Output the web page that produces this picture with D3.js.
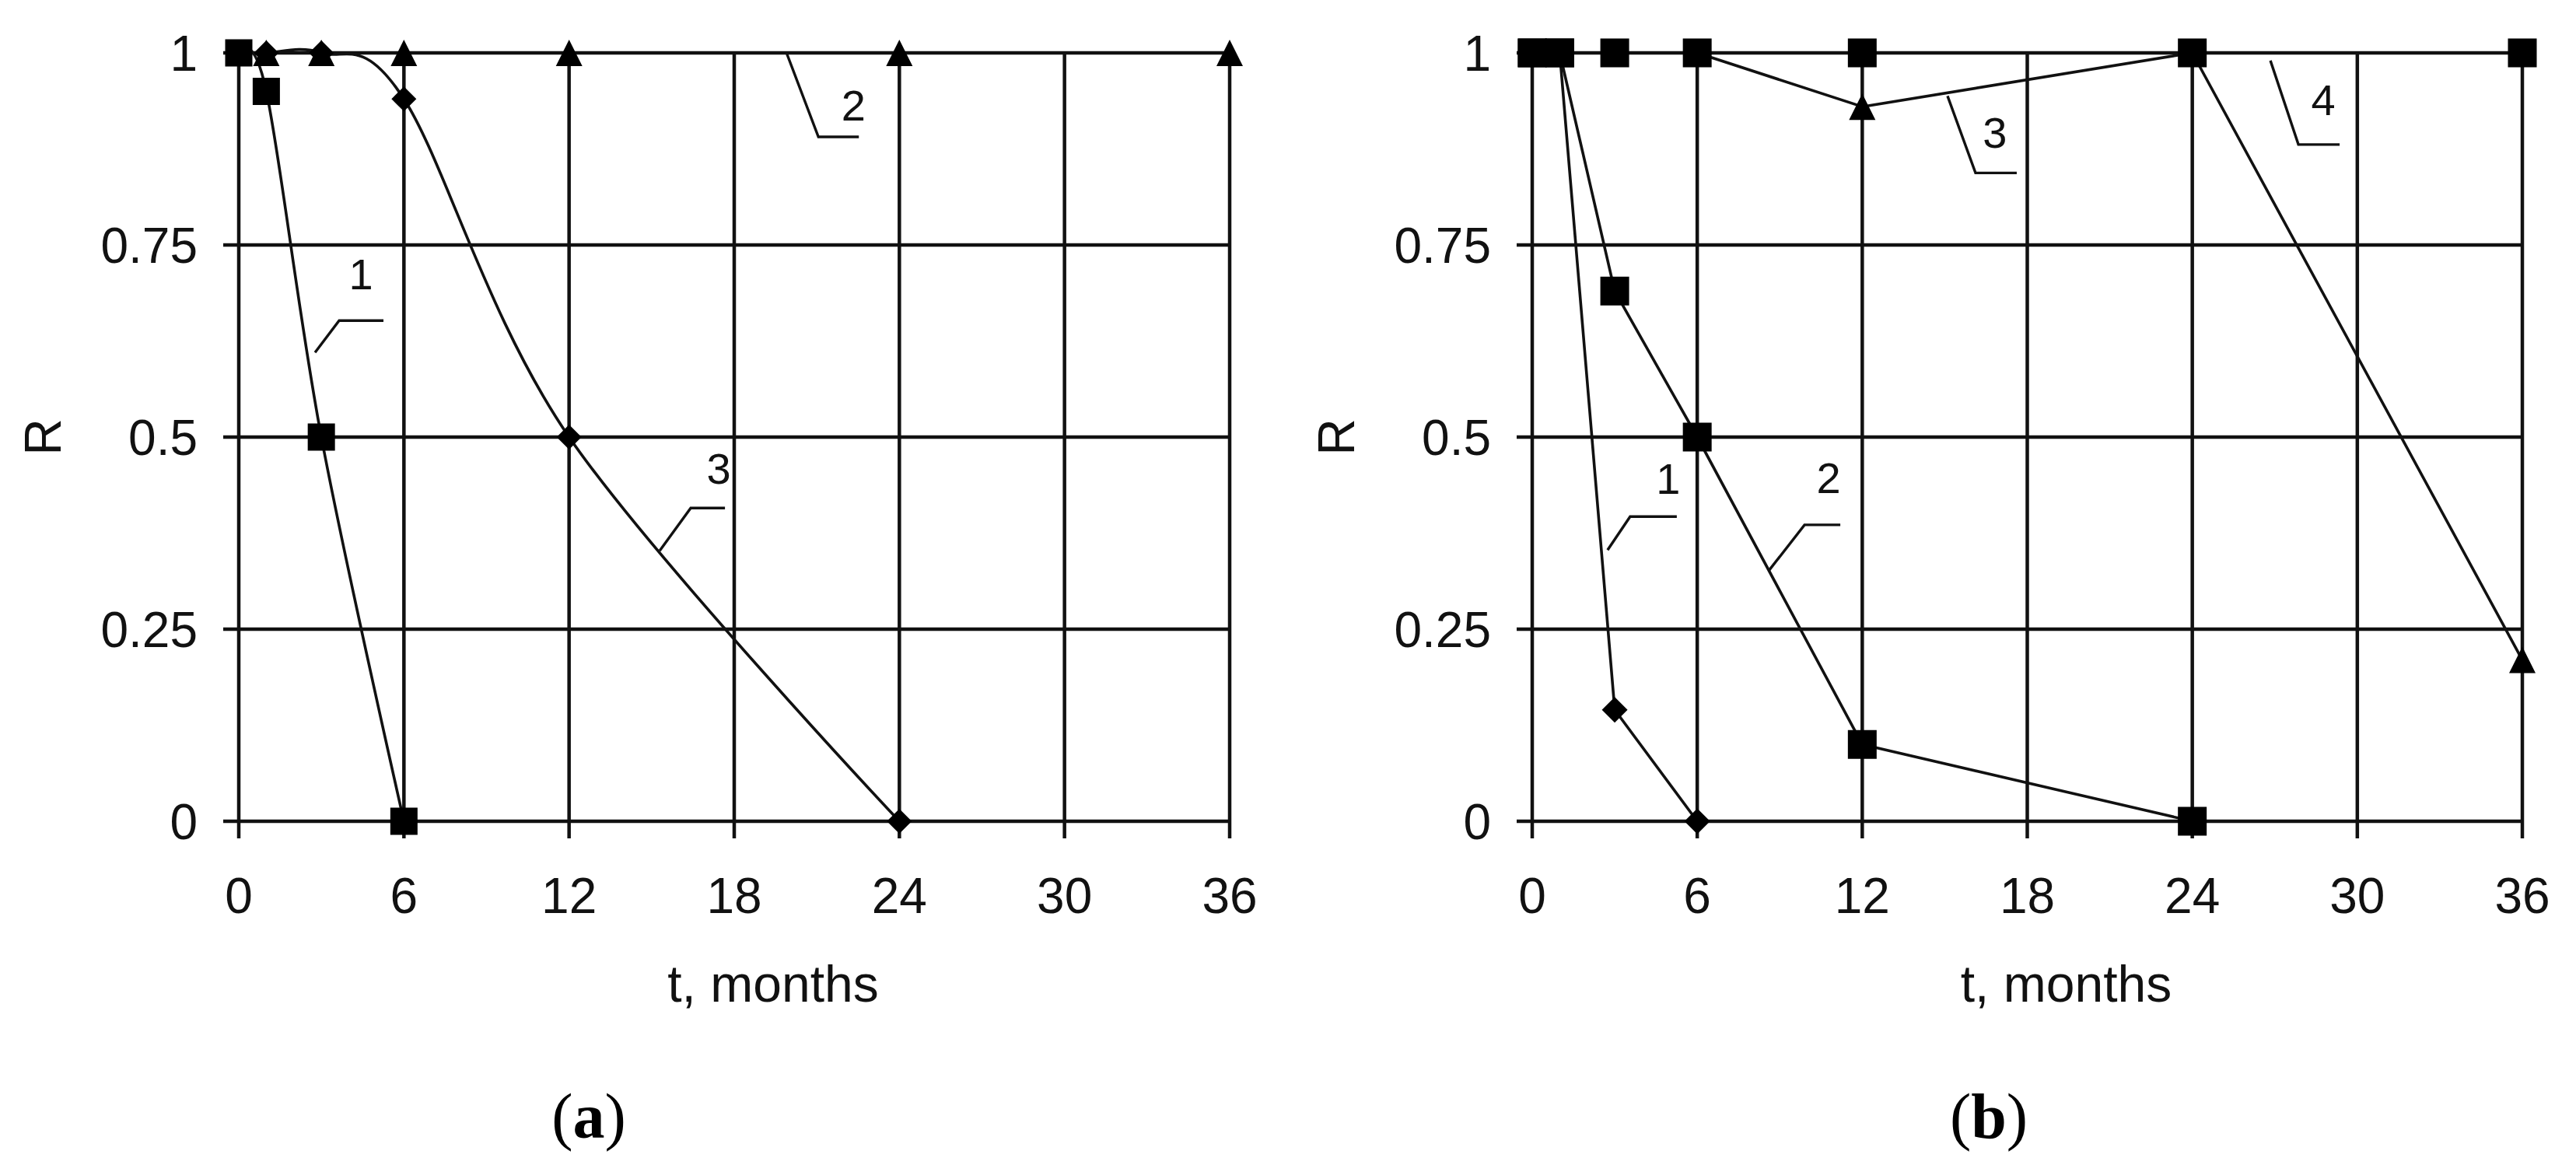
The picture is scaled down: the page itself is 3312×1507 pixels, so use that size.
<!DOCTYPE html>
<html>
<head>
<meta charset="utf-8">
<script src="https://cdn.jsdelivr.net/npm/d3@7"></script>
<style>
  html, body { margin: 0; padding: 0; background: #fff; }
  svg { display: block; }
</style>
</head>
<body>
<svg id="chart" width="3312" height="1507"></svg>
<script>
// ---------- DATA ----------
const xTicks = [0, 6, 12, 18, 24, 30, 36];
const yTicks = [0, 0.25, 0.5, 0.75, 1];
const yTickLabels = ["0", "0.25", "0.5", "0.75", "1"];
const xTitle = "t, months";
const yTitle = "R";

// panel (a)
const aS1_t = [0, 1, 3, 6];
const aS1_R = [1, 0.95, 0.5, 0];
const aS2_t = [0, 1, 3, 6, 12, 24, 36];
const aS2_R = [1, 1, 1, 1, 1, 1, 1];
const aS3_t = [0, 1, 3, 6, 12, 24];
const aS3_R = [1, 1, 1, 0.94, 0.5, 0];

// panel (b)
const bS1_t = [0, 1, 3, 6];
const bS1_R = [1, 1, 0.145, 0];
const bS2_t = [0, 1, 3, 6, 12, 24];
const bS2_R = [1, 1, 0.69, 0.5, 0.1, 0];
const bS3_t = [0, 1, 3, 6, 12, 24, 36];
const bS3_R = [1, 1, 1, 1, 0.93, 1, 0.21];
const bS4_t = [0, 1, 3, 6, 12, 24, 36];
const bS4_R = [1, 1, 1, 1, 1, 1, 1];

// callout labels: text and the (t, R) point the leader starts from
const aLabels = ["1", "2", "3"];
const aLabel_t = [2.77, 19.9, 15.29];
const aLabel_R = [0.61, 1, 0.352];
const bLabels = ["1", "2", "3", "4"];
const bLabel_t = [2.74, 8.6, 15.1, 26.84];
const bLabel_R = [0.353, 0.326, 0.944, 0.99];

// ---------- LAYOUT / STYLE ----------
const sansFont = "'Liberation Sans', Arial, Helvetica, sans-serif";
const serifFont = "'Liberation Serif', 'Times New Roman', serif";

// leader geometry in px: [elbow dx, elbow dy, end dx, end dy, text dx, text baseline dy]
const aLeader = [
  [31, -41, 88, -41, 59, -81],
  [41, 108, 93, 108, 86, 87],
  [40, -55, 84, -55, 76, -86]
];
const bLeader = [
  [29, -43, 89, -43, 78, -72],
  [46, -59, 92, -59, 77, -100],
  [36, 99, 89, 99, 61, 67],
  [36, 108, 89, 108, 68, 70]
];

const svg = d3.select("#chart");

// custom symbols with bbox centred on the point
const triSym = { draw(ctx, size) { const s = Math.sqrt(size); ctx.moveTo(0, -s / 2); ctx.lineTo(s / 2, s / 2); ctx.lineTo(-s / 2, s / 2); ctx.closePath(); } };
const diaSym = { draw(ctx, size) { const s = Math.sqrt(size); ctx.moveTo(0, -s / 2); ctx.lineTo(s / 2, 0); ctx.lineTo(0, s / 2); ctx.lineTo(-s / 2, 0); ctx.closePath(); } };
const sqSym  = { draw(ctx, size) { const s = Math.sqrt(size); ctx.rect(-s / 2, -s / 2, s, s); } };

function zip(ts, rs) { return ts.map((t, i) => ({ t: t, R: rs[i] })); }

function drawPanel(cfg) {
  const x = d3.scaleLinear().domain([0, 36]).range([cfg.x0, cfg.x1]);
  const y = d3.scaleLinear().domain([0, 1]).range([1056, 68]);
  const g = svg.append("g");

  // grid (horizontal)
  g.append("g").selectAll("line").data(yTicks).join("line")
    .attr("x1", x(0) - 20).attr("x2", x(36))
    .attr("y1", d => y(d)).attr("y2", d => y(d))
    .attr("stroke", "#111").attr("stroke-width", 4.5);
  // grid (vertical)
  g.append("g").selectAll("line").data(xTicks).join("line")
    .attr("x1", d => x(d)).attr("x2", d => x(d))
    .attr("y1", y(1)).attr("y2", y(0) + 22)
    .attr("stroke", "#111").attr("stroke-width", 4.5);

  // tick labels
  g.append("g").selectAll("text").data(yTicks).join("text")
    .attr("x", x(0) - 53).attr("y", d => y(d)).attr("dy", "0.36em")
    .attr("text-anchor", "end")
    .attr("font-family", sansFont).attr("font-size", 64).attr("fill", "#111")
    .text((d, i) => yTickLabels[i]);
  g.append("g").selectAll("text").data(xTicks).join("text")
    .attr("x", d => x(d)).attr("y", y(0) + 118)
    .attr("text-anchor", "middle")
    .attr("font-family", sansFont).attr("font-size", 64).attr("fill", "#111")
    .text(d => String(d));

  // axis titles
  g.append("text")
    .attr("x", (cfg.x0 + cfg.x1) / 2 + 50).attr("y", 1288)
    .attr("text-anchor", "middle")
    .attr("font-family", sansFont).attr("font-size", 66).attr("fill", "#111")
    .text(xTitle);
  g.append("text")
    .attr("transform", `translate(${x(0) - 253},${(y(0) + y(1)) / 2}) rotate(-90)`)
    .attr("text-anchor", "middle").attr("dy", "0.36em")
    .attr("font-family", sansFont).attr("font-size", 66).attr("fill", "#111")
    .text(yTitle);

  // series
  cfg.series.forEach(s => {
    const data = zip(s.t, s.R);
    const line = d3.line().x(d => x(d.t)).y(d => y(d.R));
    if (s.smooth) line.curve(d3.curveCardinal.tension(0));
    g.append("path").datum(data)
      .attr("d", line)
      .attr("fill", "none").attr("stroke", "#111").attr("stroke-width", 3.6)
      .attr("stroke-linejoin", "round");
  });
  cfg.series.forEach(s => {
    const data = zip(s.t, s.R);
    const sym = d3.symbol().type(s.sym).size(s.size * s.size);
    g.append("g").selectAll("path").data(data).join("path")
      .attr("transform", d => `translate(${x(d.t)},${y(d.R)})`)
      .attr("d", sym).attr("fill", "#000");
  });

  // callouts
  cfg.labels.forEach((lab, i) => {
    const px = x(cfg.label_t[i]), py = y(cfg.label_R[i]);
    const L = cfg.leader[i];
    g.append("path")
      .attr("d", d3.line()([[px, py], [px + L[0], py + L[1]], [px + L[2], py + L[3]]]))
      .attr("fill", "none").attr("stroke", "#111").attr("stroke-width", 3.4);
    g.append("text")
      .attr("x", px + L[4]).attr("y", py + L[5])
      .attr("text-anchor", "middle")
      .attr("font-family", sansFont).attr("font-size", 56).attr("fill", "#111")
      .text(lab);
  });

  // panel letter
  const t = svg.append("text")
    .attr("x", cfg.letterX).attr("y", 1463)
    .attr("text-anchor", "middle")
    .attr("font-family", serifFont).attr("font-size", 82).attr("fill", "#000");
  t.append("tspan").text("(");
  t.append("tspan").attr("font-weight", "bold").text(cfg.letter);
  t.append("tspan").text(")");
}

drawPanel({
  x0: 307, x1: 1581, letter: "a", letterX: 757,
  series: [
    { t: aS3_t, R: aS3_R, sym: diaSym, size: 32, smooth: true },
    { t: aS2_t, R: aS2_R, sym: triSym, size: 34, smooth: true },
    { t: aS1_t, R: aS1_R, sym: sqSym, size: 35, smooth: true }
  ],
  labels: aLabels, label_t: aLabel_t, label_R: aLabel_R, leader: aLeader
});

drawPanel({
  x0: 1970, x1: 3243, letter: "b", letterX: 2557,
  series: [
    { t: bS1_t, R: bS1_R, sym: diaSym, size: 33, smooth: false },
    { t: bS2_t, R: bS2_R, sym: sqSym, size: 37, smooth: false },
    { t: bS3_t, R: bS3_R, sym: triSym, size: 34, smooth: false },
    { t: bS4_t, R: bS4_R, sym: sqSym, size: 37, smooth: false }
  ],
  labels: bLabels, label_t: bLabel_t, label_R: bLabel_R, leader: bLeader
});
</script>
</body>
</html>
